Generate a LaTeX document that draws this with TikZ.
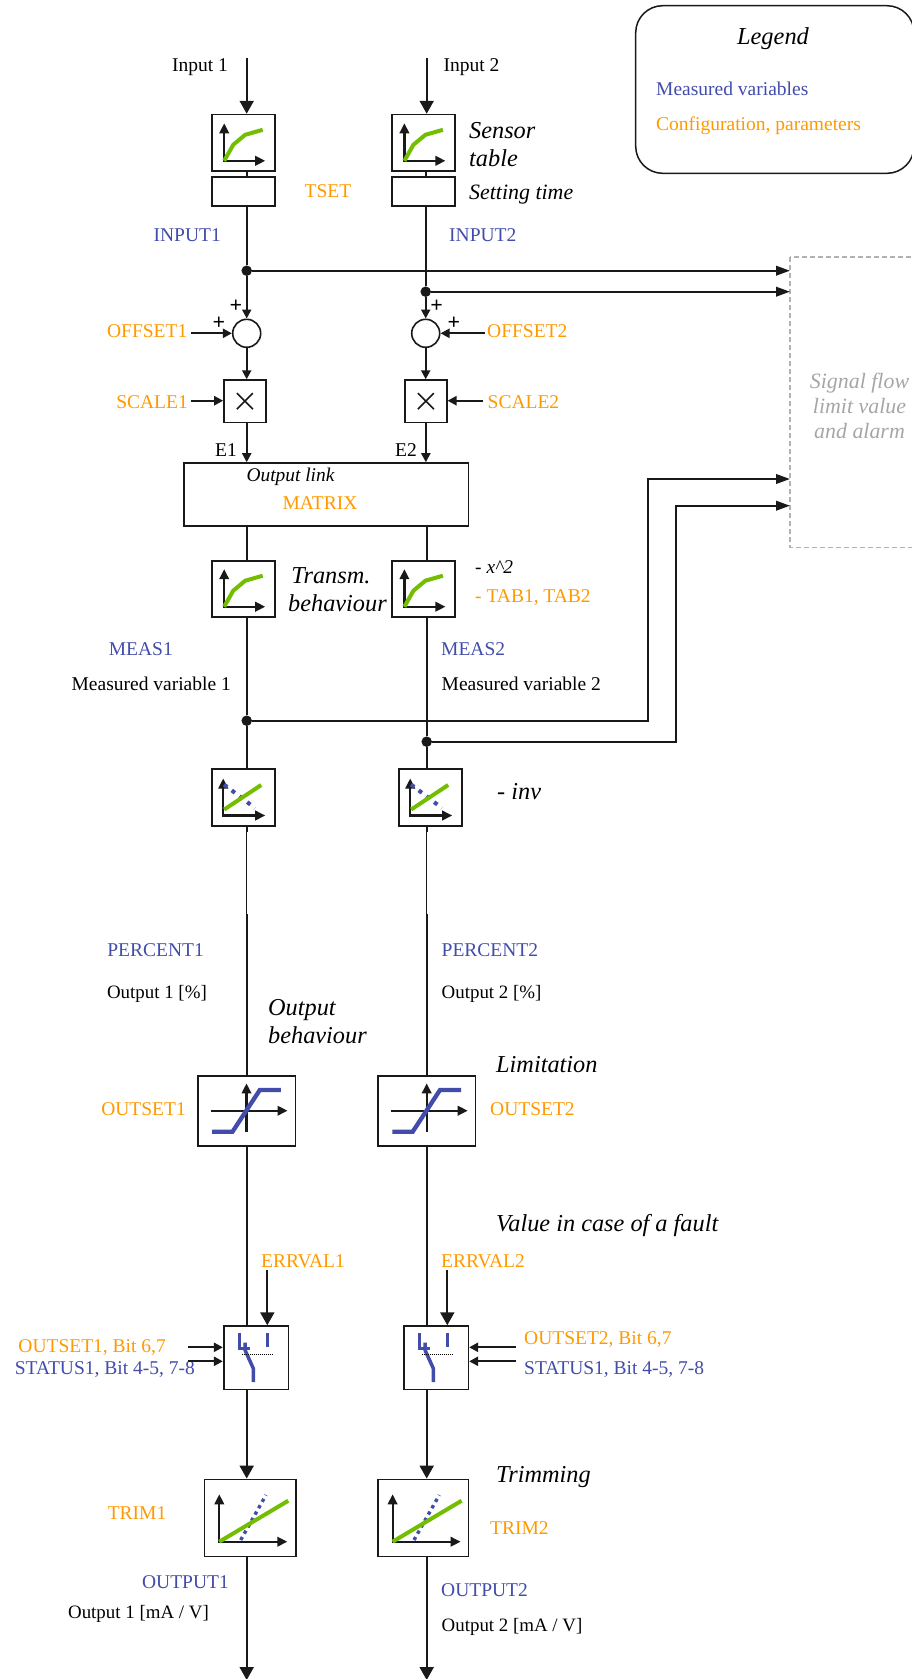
\documentclass[tikz,border=0pt]{standalone}
\usepackage{fontspec}
\setmainfont{Liberation Serif}
\usetikzlibrary{calc,positioning,arrows.meta}
\definecolor{cblue}{RGB}{66,76,170}
\definecolor{corange}{RGB}{255,153,0}
\definecolor{cgreen}{RGB}{115,190,0}
\tikzset{
  blk/.style={draw=black!90,line width=1.6pt,fill=white,inner sep=0pt,rectangle},
  lnk/.style={draw=black!90,line width=2.2pt},
  thn/.style={draw=black!90,line width=1.4pt},
  arr/.style={lnk,-{Triangle[length=13pt,width=14pt]}},
  sarr/.style={lnk,-{Triangle[length=9pt,width=9pt]}},
  larr/.style={lnk,-{Triangle[length=14pt,width=9.5pt]}},
  dot/.style={circle,fill=black!90,inner sep=0pt,minimum size=10.5pt},
  blu/.style={text=cblue,font=\fontsize{19.5}{24}\selectfont,inner sep=0pt},
  org/.style={text=corange,font=\fontsize{19.5}{24}\selectfont,inner sep=0pt},
  blk txt/.style={font=\fontsize{19.5}{24}\selectfont,inner sep=0pt},
  blk sml/.style={font=\fontsize{18.9}{24}\selectfont,inner sep=0pt},
  plus/.style={font=\bfseries\fontsize{22}{24}\selectfont,inner sep=0pt},
  itl/.style={font=\fontsize{24.3}{28}\selectfont\itshape,inner sep=0pt,align=left},
  itm/.style={font=\fontsize{21.9}{25}\selectfont\itshape,inner sep=0pt,align=left},
  its/.style={font=\fontsize{19.4}{24}\selectfont\itshape,inner sep=0pt},
  axs/.style={draw=black!90,line width=2.2pt,-{Triangle[length=10pt,width=9.5pt]}},
  pics/curvegl/.style={code={
    \draw[axs] (-19,18) -- (-19,-19.5);
    \draw[axs] (-20,18) -- (22,18);
    \draw[cgreen,line width=4pt] (-19,18) -- (-10,2) -- (2,-8) -- (19.5,-13);
  }},
  pics/invgl/.style={code={
    \draw[axs] (-20,18) -- (-20,-19);
    \draw[axs] (-21,18) -- (22,18);
    \draw[cblue,line width=4pt,dash pattern=on 4pt off 5.7pt] (-19.2,-13) -- (11.7,10.5);
    \draw[cgreen,line width=4pt] (-19,12) -- (18,-12.5);
  }},
  pics/limgl/.style={code={
    \draw[axs] (-35.7,0) -- (41,0);
    \draw[axs] (0,21.7) -- (0,-27.3);
    \draw[cblue,line width=4.3pt] (-34.3,21) -- (-14,21) -- (13.3,-20.7) -- (34.3,-20.7);
  }},
  pics/swgl/.style={code={
    \draw[cblue,line width=3.5pt] (-16.7,-24.3) -- (-16.7,-9.3) -- (-6,-9.3);
    \draw[cblue,line width=3.5pt] (-11,-15) -- (-11,-7.7) -- (-2.7,10.7) -- (-2.7,24.3);
    \draw[cblue,line width=3.5pt] (11.3,-24.3) -- (11.3,-11);
    \draw[black,line width=1pt,densely dotted] (-14.3,-3.7) -- (17.3,-3.7);
  }},
  pics/trimgl/.style={code={
    \draw[axs] (-30.7,23.7) -- (-30.7,-23.7);
    \draw[axs] (-31.7,23.7) -- (37.3,23.7);
    \draw[cblue,line width=3.4pt,dash pattern=on 3.4pt off 3.9pt] (-9.3,22) -- (16,-23);
    \draw[cgreen,line width=4pt] (-30.7,23.7) -- (38.3,-17.3);
  }},
}
\begin{document}
\begin{tikzpicture}[x=1pt,y=-1pt]
\useasboundingbox (0,0) rectangle (912,1679);
% legend and signal flow box
\draw[black!90,line width=1.5pt,rounded corners=27pt] (635.7,5.7) rectangle (914,173.3);
\node[inner sep=0pt,font=\fontsize{24.4}{26}\selectfont\itshape] (legend) at (773,39) {Legend};
\node[blu,anchor=west] (legblue) at (656,88.5) {Measured variables};
\node[org,anchor=west] (legorg) at (656,126) {Configuration, parameters};
\draw[gray!60,line width=1.1pt,dash pattern=on 5pt off 3pt] (790,257) rectangle (916,547.5);
\node[itm,text=gray!70,align=center] (flow) at (859.5,406) {Signal flow\\limit value\\and alarm};
% coordinates of the tops and bottom
\coordinate (in1) at (246.7,58);
\coordinate (in2) at (426.7,58);
\coordinate (out1) at (246.7,1680);
\coordinate (out2) at (426.7,1680);
\coordinate (st1) at (246.7,832);
\coordinate (st2) at (426.7,832);
\coordinate (en1) at (246.7,914);
\coordinate (en2) at (426.7,914);
% blocks
\node[blk,minimum width=63pt,minimum height=56.5pt] (sens1) at (243.2,142.8) {};
\node[blk,minimum width=63pt,minimum height=56.5pt] (sens2) at (423.4,142.8) {};
\node[blk,minimum width=63pt,minimum height=28.5pt] (tset1) at (243.2,191.5) {};
\node[blk,minimum width=63pt,minimum height=28.5pt] (tset2) at (423.4,191.5) {};
\node[blk,circle,minimum size=28pt] (sum1) at (246.7,333.3) {};
\node[blk,circle,minimum size=28pt] (sum2) at (425.7,333.3) {};
\node[blk,minimum width=41.7pt,minimum height=42.3pt] (mul1) at (244.85,401.2) {};
\node[blk,minimum width=41.7pt,minimum height=42.3pt] (mul2) at (425.85,401.2) {};
\node[blk,minimum width=284.3pt,minimum height=63pt] (matrix) at (326.2,494.5) {};
\node[blk,minimum width=63pt,minimum height=56pt] (trans1) at (243.2,588.7) {};
\node[blk,minimum width=63pt,minimum height=56pt] (trans2) at (423.4,588.7) {};
\node[blk,minimum width=63pt,minimum height=56.5pt] (inv1) at (243.2,797.5) {};
\node[blk,minimum width=63pt,minimum height=56.5pt] (inv2) at (430.2,797.5) {};
\node[blk,minimum width=97.6pt,minimum height=70pt] (lim1) at (246.5,1110.7) {};
\node[blk,minimum width=97.3pt,minimum height=70pt] (lim2) at (426.7,1110.7) {};
\node[blk,minimum width=64.6pt,minimum height=63.3pt] (sw1) at (256,1357.7) {};
\node[blk,minimum width=64.6pt,minimum height=63.3pt] (sw2) at (436,1357.7) {};
\node[blk,minimum width=91.4pt,minimum height=77.3pt] (trim1) at (250,1518) {};
\node[blk,minimum width=90.7pt,minimum height=77.3pt] (trim2) at (423.3,1518) {};
% glyphs
\pic at (sens1) {curvegl};
\pic at (sens2) {curvegl};
\pic at (trans1) {curvegl};
\pic at (trans2) {curvegl};
\pic at (inv1) {invgl};
\pic at (inv2) {invgl};
\pic at (lim1) {limgl};
\pic at (lim2) {limgl};
\pic at (sw1) {swgl};
\pic at (sw2) {swgl};
\pic at (trim1) {trimgl};
\pic at (trim2) {trimgl};
\draw[black!90,line width=1.6pt] ($(mul1)+(-8,-8)$) -- ($(mul1)+(8,8)$) ($(mul1)+(-8,8)$) -- ($(mul1)+(8,-8)$);
\draw[black!90,line width=1.6pt] ($(mul2)+(-8,-8)$) -- ($(mul2)+(8,8)$) ($(mul2)+(-8,8)$) -- ($(mul2)+(8,-8)$);
% junctions
\node[dot] (j1) at (246.7,270.7) {};
\node[dot] (j2) at (425.7,291.7) {};
\node[dot] (j3) at (246.7,720.7) {};
\node[dot] (j4) at (426.7,741.7) {};
\coordinate (sf1) at (790,270.7);
\coordinate (sf2) at (790,291.7);
\coordinate (sf3) at (790,479);
\coordinate (sf4) at (790,505.7);
% connectors
\draw[arr] (in1) -- (in1 |- sens1.north);
\draw[arr] (in2) -- (in2 |- sens2.north);
\draw[lnk] (sens1.south -| in1) -- (tset1.north -| in1);
\draw[lnk] (sens2.south -| j2) -- (tset2.north -| j2);
\draw[lnk] (tset1.south -| in1) -- (j1);
\draw[lnk] (tset2.south -| j2) -- (j2);
\draw[sarr] (j1) -- (sum1.north);
\draw[sarr] (j2) -- (sum2.north);
\draw[larr] (j1) -- (sf1);
\draw[larr] (j2) -- (sf2);
\draw[sarr] (sum1.south) -- (sum1.south |- mul1.north);
\draw[sarr] (sum2.south) -- (sum2.south |- mul2.north);
\draw[sarr] (mul1.south -| j1) -- (j1 |- matrix.north);
\draw[sarr] (mul2.south) -- (mul2 |- matrix.north);
\draw[lnk] (j1 |- matrix.south) -- (j1 |- trans1.north);
\draw[lnk] (j4 |- matrix.south) -- (j4 |- trans2.north);
\draw[lnk] (j3 |- trans1.south) -- (j3);
\draw[lnk] (j4 |- trans2.south) -- (j4);
\draw[lnk] (j3) -- (j3 |- inv1.north);
\draw[lnk] (j4) -- (j4 |- inv2.north);
\draw[larr] (j3) -| (648,479) -- (sf3);
\draw[larr] (j4) -| (675.7,505.7) -- (sf4);
\draw[lnk] (j3 |- inv1.south) -- (st1);
\draw[lnk] (j4 |- inv2.south) -- (st2);
\draw[thn] (st1) -- (en1);
\draw[thn] (st2) -- (en2);
\draw[lnk] (en1) -- (en1 |- lim1.north);
\draw[lnk] (en2) -- (en2 |- lim2.north);
\draw[lnk] (j3 |- lim1.south) -- (j3 |- sw1.north);
\draw[lnk] (j4 |- lim2.south) -- (j4 |- sw2.north);
\draw[arr] (j3 |- sw1.south) -- (j3 |- trim1.north);
\draw[arr] (j4 |- sw2.south) -- (j4 |- trim2.north);
\draw[arr] (j3 |- trim1.south) -- (out1);
\draw[arr] (j4 |- trim2.south) -- (out2);
% labels
\node[blk txt,anchor=east] (lin1) at (228,67) {Input 1};
\node[blk txt,anchor=west] (lin2) at (443.5,67) {Input 2};
\node[itl,anchor=north west] (lsens) at (469,122) {Sensor\\table};
\node[itm,anchor=west] (lset) at (469,195) {Setting time};
\node[org] (ltset) at (328,191) {TSET};
\node[blu,anchor=east] (linp1) at (221,235) {INPUT1};
\node[blu,anchor=west] (linp2) at (449,235) {INPUT2};
\node[org,anchor=east] (loff1) at (187.5,331.5) {OFFSET1};
\node[org,anchor=west] (loff2) at (487,331.5) {OFFSET2};
\node[org,anchor=east] (lsc1) at (188,402) {SCALE1};
\node[org,anchor=west] (lsc2) at (487.5,402) {SCALE2};
\coordinate (aoff1) at (190.7,333.3);
\coordinate (aoff2) at (485,333.3);
\coordinate (asc1) at (190.7,400.7);
\coordinate (asc2) at (483,400.7);
\draw[sarr] (aoff1) -- (sum1.west);
\draw[sarr] (aoff2) -- (sum2.east);
\draw[sarr] (asc1) -- (asc1 -| mul1.west);
\draw[sarr] (asc2) -- (asc2 -| mul2.east);
\node[plus] (pl1) at (236,306.5) {+};
\node[plus] (pl2) at (219,323) {+};
\node[plus] (pl3) at (436.7,306.5) {+};
\node[plus] (pl4) at (454,323) {+};
\node[blk txt] (le1) at (226,450) {E1};
\node[blk txt] (le2) at (406,450) {E2};
\node[its] (loutl) at (290.5,477) {Output link};
\node[org] (lmat) at (320,503.5) {MATRIX};
\node[itl,anchor=north west] (ltrans) at (288,567.5) {\hspace*{3.2pt}Transm.\\behaviour};
\node[its,anchor=west] (lx) at (475,567.5) {- x\^{}2};
\node[org,anchor=west] (ltab) at (475,598) {- TAB1, TAB2};
\node[blu,anchor=east] (lm1) at (173,649) {MEAS1};
\node[blu,anchor=west] (lm2) at (441,649) {MEAS2};
\node[blk txt,anchor=east] (lv1) at (231,684) {Measured variable 1};
\node[blk txt,anchor=west] (lv2) at (441.5,684) {Measured variable 2};
\node[itl,anchor=west] (linv) at (497,792) {- inv};
\node[blu,anchor=east] (lp1) at (204,950) {PERCENT1};
\node[blu,anchor=west] (lp2) at (441.5,950) {PERCENT2};
\node[blk sml,anchor=east] (lo1) at (207,994) {Output 1 [\%]};
\node[blk sml,anchor=west] (lo2) at (441.5,994) {Output 2 [\%]};
\node[itl,anchor=north west] (lob) at (268,999) {Output\\behaviour};
\node[itl,anchor=west] (llim) at (496,1065) {Limitation};
\node[org,anchor=east] (los1) at (186,1109) {OUTSET1};
\node[org,anchor=west] (los2) at (490,1109) {OUTSET2};
\node[itl,anchor=west] (lval) at (496,1226) {Value in case of a fault};
\node[org,anchor=west] (ler1) at (261,1261) {ERRVAL1};
\node[org,anchor=west] (ler2) at (441,1261) {ERRVAL2};
\coordinate (e1) at (267.3,1270);
\coordinate (e2) at (447.3,1270);
\draw[arr] (e1) -- (e1 |- sw1.north);
\draw[arr] (e2) -- (e2 |- sw2.north);
\node[org,anchor=east] (lb1) at (166,1348) {OUTSET1, Bit 6,7};
\node[blu,anchor=east] (ls1) at (195,1369) {STATUS1, Bit 4-5, 7-8};
\node[org,anchor=west] (lb2) at (524,1340) {OUTSET2, Bit 6,7};
\node[blu,anchor=west] (ls2) at (524,1369) {STATUS1, Bit 4-5, 7-8};
\coordinate (a1) at (188,1347.3);
\coordinate (a2) at (188,1361.3);
\coordinate (a3) at (516,1347.3);
\coordinate (a4) at (516,1361.3);
\draw[sarr] (a1) -- (a1 -| sw1.west);
\draw[sarr] (a2) -- (a2 -| sw1.west);
\draw[sarr] (a3) -- (a3 -| sw2.east);
\draw[sarr] (a4) -- (a4 -| sw2.east);
\node[itl,anchor=west] (ltrim) at (496,1477) {Trimming};
\node[org,anchor=east] (lt1) at (166.5,1513) {TRIM1};
\node[org,anchor=west] (lt2) at (490,1528) {TRIM2};
\node[blu,anchor=east] (lo3) at (229,1582) {OUTPUT1};
\node[blu,anchor=west] (lo4) at (441,1590) {OUTPUT2};
\node[blk sml,anchor=east] (lm3) at (209,1614) {Output 1 [mA / V]};
\node[blk sml,anchor=west] (lm4) at (441.5,1627) {Output 2 [mA / V]};
\end{tikzpicture}
\end{document}
